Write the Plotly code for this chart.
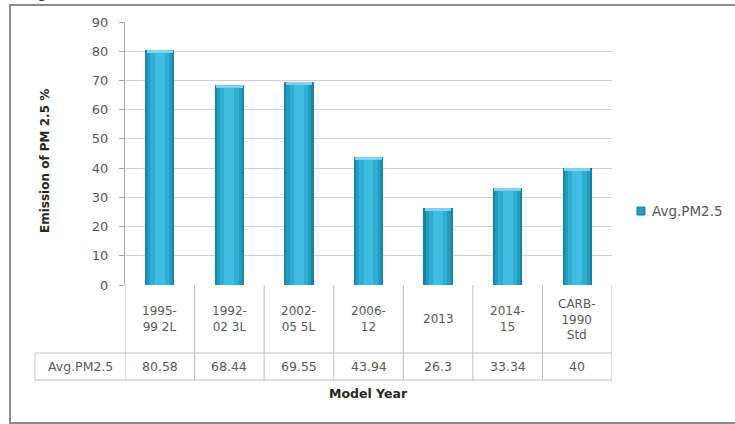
import plotly.graph_objects as go

categories = ["1995-99 2L", "1992-02 3L", "2002-05 5L", "2006-12", "2013", "2014-15", "CARB-1990 Std"]
cat_labels = ["1995-<br>99 2L", "1992-<br>02 3L", "2002-<br>05 5L", "2006-<br>12", "2013", "2014-<br>15", "CARB-<br>1990<br>Std"]
values = [80.58, 68.44, 69.55, 43.94, 26.3, 33.34, 40]
value_text = ["80.58", "68.44", "69.55", "43.94", "26.3", "33.34", "40"]
series_name = "Avg.PM2.5"
y_ticks = [0, 10, 20, 30, 40, 50, 60, 70, 80, 90]

W, H = 735, 424
L, R, T, B = 125, 612, 22, 285
def px(x):
    return (x - L) / (R - L)
def py(y):
    return (B - y) / (B - T)

FONT = "DejaVu Sans"
fig = go.Figure()

idx = list(range(len(categories)))
layers = [(0.42, "#1b82a2"), (0.36, "#249cbf"), (0.27, "#2eaed3"), (0.14, "#40bde1")]
for w, c in layers:
    fig.add_trace(go.Bar(x=idx, y=values, width=w, marker=dict(color=c, line=dict(width=0)),
                         name=series_name, showlegend=False, hoverinfo="skip"))
cap = 1.1
fig.add_trace(go.Bar(x=idx, y=[cap] * len(values), base=[v - cap for v in values], width=0.38,
                     marker=dict(color="#7fd4ec", line=dict(width=0)), showlegend=False, hoverinfo="skip"))

shapes = []
grid = "#bfbfbf"
# outer frame
shapes.append(dict(type="rect", xref="paper", yref="paper", x0=px(10), x1=px(760), y0=py(423), y1=py(5),
                   line=dict(color="#8c8c8c", width=2), layer="below"))
# table lines
for yy in (353, 380):
    shapes.append(dict(type="line", xref="paper", yref="paper", x0=px(35), x1=px(612), y0=py(yy), y1=py(yy),
                       line=dict(color=grid, width=1)))
shapes.append(dict(type="line", xref="paper", yref="paper", x0=px(35), x1=px(35), y0=py(353), y1=py(380),
                   line=dict(color=grid, width=1)))
for i in range(len(categories) + 1):
    shapes.append(dict(type="line", xref="x", yref="paper", x0=i - 0.5, x1=i - 0.5, y0=py(285), y1=py(380),
                       line=dict(color=grid, width=1)))
# legend key
shapes.append(dict(type="rect", xref="paper", yref="paper", x0=px(637), x1=px(645), y0=py(215), y1=py(207),
                   fillcolor="#249cbf", line=dict(color="#1b82a2", width=1)))
fig.update_layout(shapes=shapes)

ann = []
for i, lab in enumerate(cat_labels):
    ann.append(dict(x=i, y=py(319), xref="x", yref="paper", text=lab, showarrow=False,
                    font=dict(family=FONT, size=12, color="#595959"), xanchor="center", yanchor="middle"))
    ann.append(dict(x=i, y=py(366.5), xref="x", yref="paper", text=value_text[i], showarrow=False,
                    font=dict(family=FONT, size=12.5, color="#595959"), xanchor="center", yanchor="middle"))
ann.append(dict(x=px(80), y=py(366.5), xref="paper", yref="paper", text=series_name, showarrow=False,
                font=dict(family=FONT, size=12.5, color="#595959"), xanchor="center", yanchor="middle"))
ann.append(dict(x=px(368), y=py(393), xref="paper", yref="paper", text="<b>Model Year</b>", showarrow=False,
                font=dict(family=FONT, size=12.5, color="#262626"), xanchor="center", yanchor="middle"))
ann.append(dict(x=px(45), y=py(161), xref="paper", yref="paper", text="<b>Emission of PM 2.5 %</b>",
                showarrow=False, textangle=-90, font=dict(family=FONT, size=12, color="#262626"),
                xanchor="center", yanchor="middle"))
ann.append(dict(x=px(650), y=py(211), xref="paper", yref="paper", text=series_name, showarrow=False,
                font=dict(family=FONT, size=13.5, color="#595959"), xanchor="left", yanchor="middle"))
ann.append(dict(x=px(42), y=py(3), xref="paper", yref="paper", text="g", showarrow=False,
                font=dict(family="Liberation Serif", size=16, color="#000000"), xanchor="center",
                yanchor="bottom"))
fig.update_layout(annotations=ann)

fig.update_layout(
    width=W, height=H,
    margin=dict(l=L, r=W - R, t=T, b=H - B, pad=0),
    paper_bgcolor="white", plot_bgcolor="white",
    barmode="overlay", bargap=0, showlegend=False,
    xaxis=dict(range=[-0.5, len(categories) - 0.5], showticklabels=False, showgrid=False, zeroline=False,
               ticks="", showline=False, fixedrange=True),
    yaxis=dict(range=[0, 90], tickvals=y_ticks, showgrid=True, gridcolor="#d0d0d0", gridwidth=1,
               zeroline=False, showline=True, linecolor="#a6a6a6", linewidth=1, ticks="outside",
               ticklen=5, tickcolor="#a6a6a6", ticklabelstandoff=8,
               tickfont=dict(family=FONT, size=13, color="#595959")),
)
fig.write_html("out.html")
